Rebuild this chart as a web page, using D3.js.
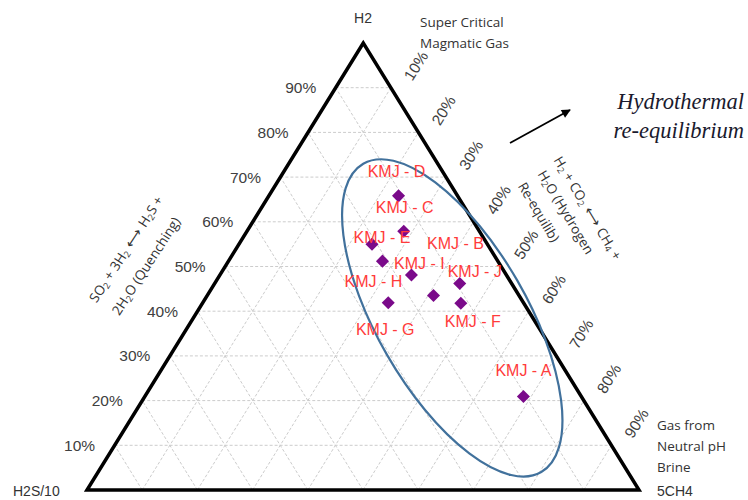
<!DOCTYPE html>
<html>
<head>
<meta charset="utf-8">
<script src="https://cdn.jsdelivr.net/npm/d3@7/dist/d3.min.js"></script>
<style>
  html, body { margin: 0; padding: 0; background: #fff; }
  svg { display: block; }
</style>
</head>
<body>
<svg id="chart" width="748" height="500"></svg>
<script>
// ---------- data ----------
const samples   = ["KMJ - D","KMJ - C","KMJ - E","KMJ - H","KMJ - I","KMJ - J","KMJ - B","KMJ - G","KMJ - F","KMJ - A"];
const h2Pct     = [65.8, 57.9, 55.0, 51.2, 48.1, 46.2, 43.5, 41.9, 41.8, 20.9];   // H2
const ch4Pct    = [23.5, 28.4, 24.1, 27.9, 34.7, 44.4, 41.0, 33.6, 46.8, 68.6];   // 5CH4
const h2sPct    = h2Pct.map((h, i) => +(100 - h - ch4Pct[i]).toFixed(1));        // H2S/10 (remainder)
const tickValues = [10, 20, 30, 40, 50, 60, 70, 80, 90];
const tickLabels = tickValues.map(v => v + "%");
const vertexLabels = ["H2", "H2S/10", "5CH4"];

// label offsets (layout)
const labelOffsets = [[-2,-24],[1,-24],[10,-7],[-9,20],[8,-11],[15,-12],[22,-52],[-3,27],[12,18],[0,-26]];

// ---------- geometry ----------
const svg = d3.select("#chart");
const apex = [363.3, 43], bl = [87, 490], br = [639, 490];
const yH = d3.scaleLinear().domain([0, 100]).range([bl[1], apex[1]]);
const xC = d3.scaleLinear().domain([0, 100]).range([0, br[0] - bl[0]]);
const xH = d3.scaleLinear().domain([0, 100]).range([0, apex[0] - bl[0]]);
function pt(h, c) { return [bl[0] + xC(c) + xH(h), yH(h)]; }

// ---------- grid ----------
const grid = svg.append("g").attr("stroke", "#cccccc").attr("stroke-width", 1).attr("stroke-dasharray", "3,2").attr("fill", "none");
tickValues.forEach(k => {
  const seg = [
    [pt(k, 0), pt(k, 100 - k)],            // constant H2
    [pt(0, k), pt(100 - k, k)],            // constant CH4
    [pt(0, 100 - k), pt(100 - k, 0)]       // constant H2S
  ];
  seg.forEach(s => grid.append("line").attr("x1", s[0][0]).attr("y1", s[0][1]).attr("x2", s[1][0]).attr("y2", s[1][1]));
});

// ---------- triangle ----------
svg.append("path")
  .attr("d", d3.line()([pt(100, 0), pt(0, 0), pt(0, 100)]) + "Z")
  .attr("fill", "none").attr("stroke", "#000").attr("stroke-width", 3.5).attr("stroke-linejoin", "miter");

// ---------- axis tick labels ----------
const tickFont = "'Liberation Sans', Arial, sans-serif";
svg.append("g").selectAll("text").data(tickValues).join("text")
  .attr("x", d => pt(d, 0)[0] - 35).attr("y", d => pt(d, 0)[1])
  .attr("text-anchor", "middle").attr("dominant-baseline", "central")
  .attr("font-family", tickFont).attr("font-size", 15.5).attr("fill", "#404040")
  .text((d, i) => tickLabels[i]);

svg.append("g").selectAll("text").data(tickValues).join("text")
  .attr("transform", d => { const p = pt(100 - d, d); return `translate(${p[0] + 25},${p[1] - 22}) rotate(-58)`; })
  .attr("text-anchor", "middle").attr("dominant-baseline", "central")
  .attr("font-family", tickFont).attr("font-size", 15.5).attr("fill", "#404040")
  .text((d, i) => tickLabels[i]);

// ---------- vertex labels ----------
svg.append("text").attr("x", 363).attr("y", 18).attr("text-anchor", "middle").attr("dominant-baseline", "central")
  .attr("font-family", tickFont).attr("font-size", 14).attr("fill", "#333").text(vertexLabels[0]);
svg.append("text").attr("x", 13).attr("y", 491).attr("dominant-baseline", "central")
  .attr("font-family", tickFont).attr("font-size", 14).attr("fill", "#333").text(vertexLabels[1]);
svg.append("text").attr("x", 657).attr("y", 491).attr("dominant-baseline", "central")
  .attr("font-family", tickFont).attr("font-size", 14).attr("fill", "#333").text(vertexLabels[2]);

// ---------- annotations ----------
const annFont = "'Open Sans', 'Noto Sans', sans-serif";
[["Super Critical", 22], ["Magmatic Gas", 43]].forEach(([t, y]) =>
  svg.append("text").attr("x", 420).attr("y", y).attr("dominant-baseline", "central")
    .attr("font-family", annFont).attr("font-size", 13.5).attr("fill", "#333").text(t));
[["Gas from", 425], ["Neutral pH", 446], ["Brine", 467]].forEach(([t, y]) =>
  svg.append("text").attr("x", 657).attr("y", y).attr("dominant-baseline", "central")
    .attr("font-family", annFont).attr("font-size", 13.5).attr("fill", "#333").text(t));

function richText(g, parts) {
  let shifted = false;
  parts.forEach(p => {
    if (typeof p === "string") {
      const ts = g.append("tspan").text(p);
      if (shifted) { ts.attr("dy", -3); shifted = false; }
    } else if (p.sub) {
      const ts = g.append("tspan").attr("font-size", 9).text(p.sub);
      ts.attr("dy", shifted ? 0 : 3); shifted = true;
    } else if (p.arrow) {
      const ts = g.append("tspan").attr("font-family", "'DejaVu Sans', sans-serif").attr("font-size", 14).text(" \u27F7 ");
      if (shifted) { ts.attr("dy", -3); shifted = false; }
    }
  });
}
function rotLabel(cx, cy, ang, parts) {
  const t = svg.append("text").attr("transform", `translate(${cx},${cy}) rotate(${ang})`)
    .attr("text-anchor", "middle").attr("dominant-baseline", "central")
    .attr("font-family", annFont).attr("font-size", 13.5).attr("fill", "#333");
  richText(t, parts);
}
rotLabel(126, 249, -57, ["SO", {sub: "2"}, " + 3H", {sub: "2"}, {arrow: true}, "H", {sub: "2"}, "S +"]);
rotLabel(146, 266, -57, ["2H", {sub: "2"}, "O (Quenching)"]);
rotLabel(588, 208, 59, ["H", {sub: "2"}, " + CO", {sub: "2"}, {arrow: true}, "CH", {sub: "4"}, " +"]);
rotLabel(566, 212, 59, ["H", {sub: "2"}, "O (Hydrogen"]);
rotLabel(539, 212, 59, ["Re-equilib)"]);

// Hydrothermal re-equilibrium
[["Hydrothermal", 101], ["re-equilibrium", 130]].forEach(([t, y]) =>
  svg.append("text").attr("x", 744).attr("y", y).attr("text-anchor", "end").attr("dominant-baseline", "central")
    .attr("font-family", "'Liberation Serif', 'DejaVu Serif', serif").attr("font-style", "italic")
    .attr("font-size", 22.5).attr("fill", "#1a1a2e").text(t));

// arrow
svg.append("defs").append("marker").attr("id", "ah").attr("viewBox", "0 0 10 10").attr("refX", 9).attr("refY", 5)
  .attr("markerWidth", 10).attr("markerHeight", 9).attr("orient", "auto").attr("markerUnits", "userSpaceOnUse")
  .append("path").attr("d", "M0,0L10,5L0,10Z").attr("fill", "#000");
svg.append("line").attr("x1", 510).attr("y1", 143).attr("x2", 570).attr("y2", 110)
  .attr("stroke", "#000").attr("stroke-width", 1.8).attr("marker-end", "url(#ah)");

// ellipse (center in ternary coords)
const ellCenter = pt(38.5, 46.9);
svg.append("ellipse").attr("cx", 0).attr("cy", 0).attr("rx", 178).attr("ry", 75)
  .attr("transform", `translate(${ellCenter[0]},${ellCenter[1]}) rotate(60)`)
  .attr("fill", "none").attr("stroke", "#41719c").attr("stroke-width", 2.2);

// ---------- points ----------
const pts = samples.map((s, i) => ({ name: s, h: h2Pct[i], c: ch4Pct[i], s: h2sPct[i], off: labelOffsets[i] }));
svg.append("g").selectAll("path").data(pts).join("path")
  .attr("d", d3.symbol(d3.symbolSquare, 85)())
  .attr("transform", d => { const p = pt(d.h, d.c); return `translate(${p[0]},${p[1]}) rotate(45)`; })
  .attr("fill", "#7a0a8a");

svg.append("g").selectAll("text").data(pts).join("text")
  .attr("x", d => pt(d.h, d.c)[0] + d.off[0]).attr("y", d => pt(d.h, d.c)[1] + d.off[1])
  .attr("text-anchor", "middle").attr("dominant-baseline", "central")
  .attr("font-family", tickFont).attr("font-size", 16).attr("fill", "#ff3b3b")
  .text(d => d.name);
</script>
</body>
</html>
